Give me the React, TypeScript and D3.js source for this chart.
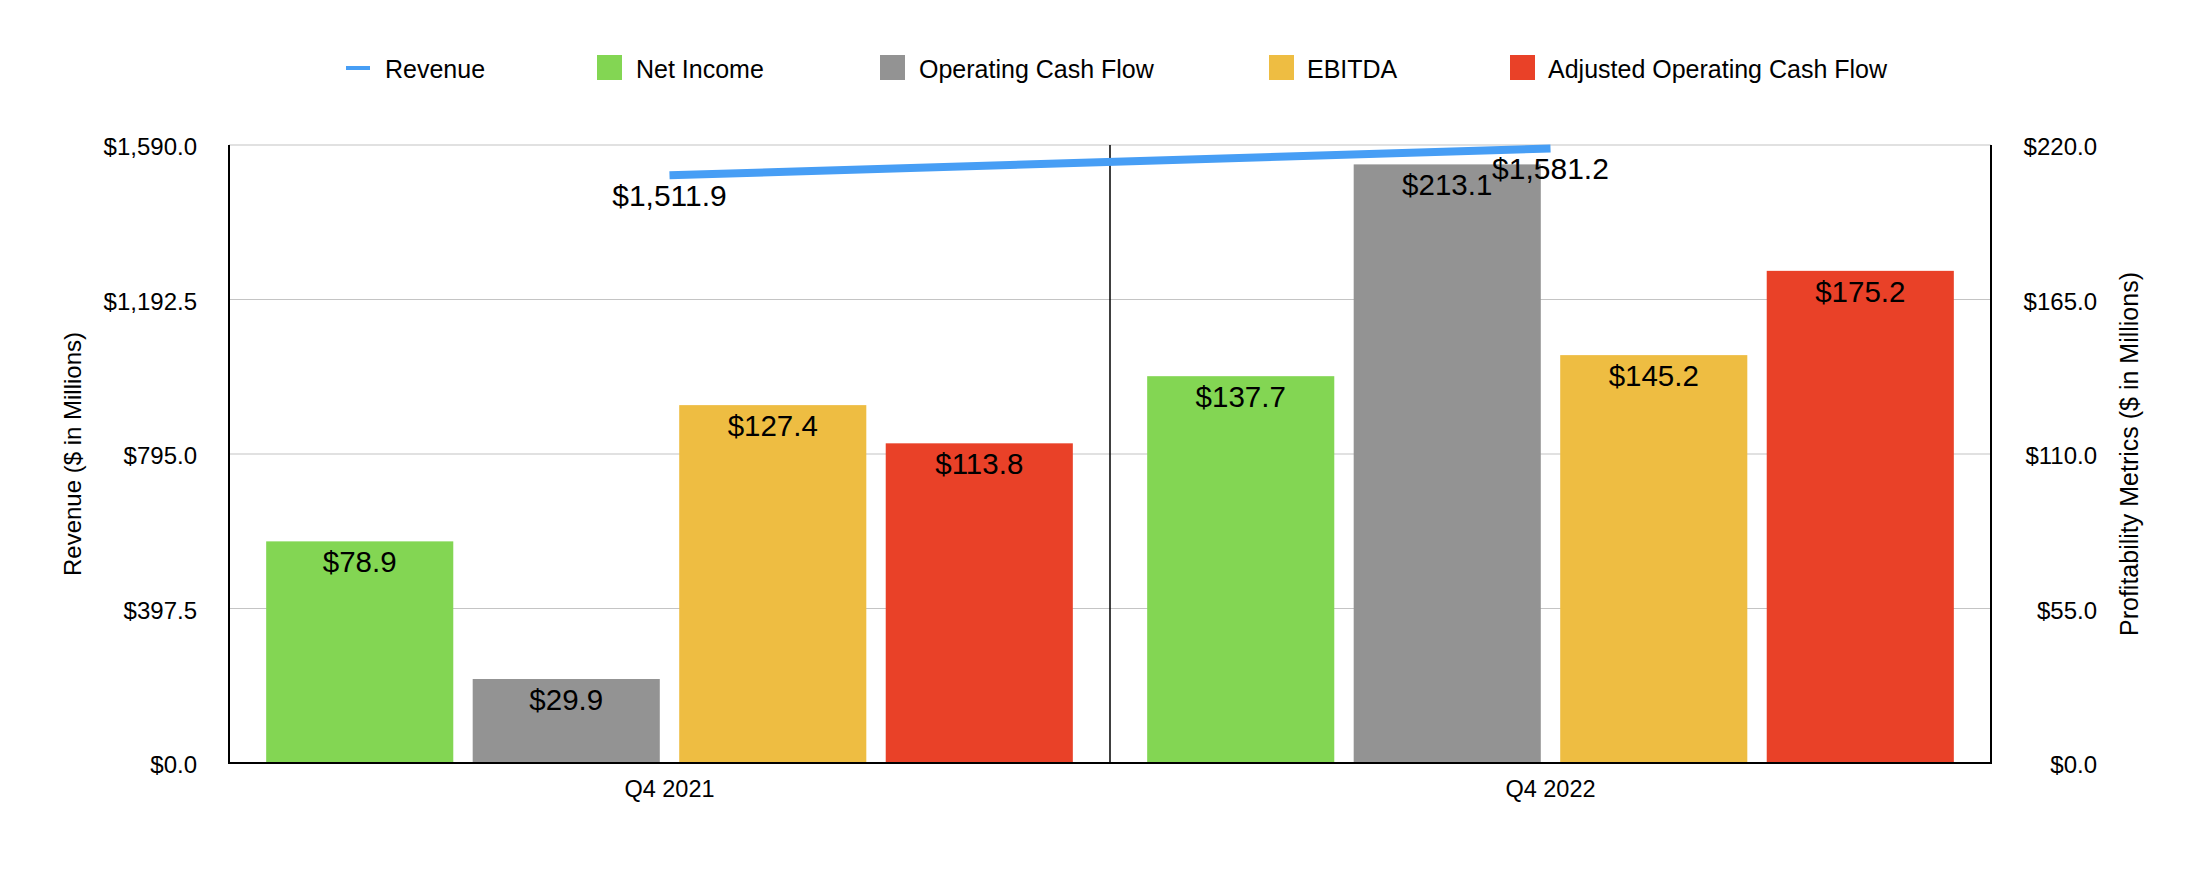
import React from "react";
import * as d3 from "d3";

const categories = ["Q4 2021", "Q4 2022"];
const revenue = [1511.9, 1581.2];
const seriesNames = ["Net Income", "Operating Cash Flow", "EBITDA", "Adjusted Operating Cash Flow"];
const netIncome = [78.9, 137.7];
const operatingCashFlow = [29.9, 213.1];
const ebitda = [127.4, 145.2];
const adjustedOCF = [113.8, 175.2];
const leftTicks = [0, 397.5, 795, 1192.5, 1590];
const rightTicks = [0, 55, 110, 165, 220];
const seriesColors = ["#83d653", "#939393", "#eebd42", "#e94128"];
const revenueColor = "#479ef5";

const W = 2190;
const H = 886;
const M = { left: 229, right: 1991, top: 145, bottom: 763 };
const FONT = "'Liberation Sans', Arial, Helvetica, sans-serif";

const fmt = d3.format(",.1f");
const money = (v: number) => "$" + fmt(v);

export default function App() {
  const seriesValues = [netIncome, operatingCashFlow, ebitda, adjustedOCF];
  const x0 = d3.scaleBand<string>().domain(categories).range([M.left, M.right]).padding(0);
  const x1 = d3
    .scaleBand<string>()
    .domain(seriesNames)
    .range([0, x0.bandwidth()])
    .paddingInner(0.094)
    .paddingOuter(0.18);
  const yL = d3.scaleLinear().domain([0, 1590]).range([M.bottom, M.top]);
  const yR = d3.scaleLinear().domain([0, 220]).range([M.bottom, M.top]);

  const line = d3
    .line<number>()
    .x((_, i) => (x0(categories[i]) as number) + x0.bandwidth() / 2)
    .y((d) => yL(d));

  const legendItems = [
    { name: "Revenue", type: "line", color: revenueColor, sx: 346, tx: 385 },
    { name: seriesNames[0], type: "rect", color: seriesColors[0], sx: 597, tx: 636 },
    { name: seriesNames[1], type: "rect", color: seriesColors[1], sx: 880, tx: 919 },
    { name: seriesNames[2], type: "rect", color: seriesColors[2], sx: 1269, tx: 1307 },
    { name: seriesNames[3], type: "rect", color: seriesColors[3], sx: 1510, tx: 1548 },
  ];

  const midY = (M.top + M.bottom) / 2;

  return (
    <svg
      width={W}
      height={H}
      style={{ position: "absolute", left: 0, top: 0, background: "#fff" }}
      fontFamily={FONT}
    >
      <rect x={0} y={0} width={W} height={H} fill="#fff" />
      {/* Legend */}
      {legendItems.map((it) => (
        <g key={it.name}>
          {it.type === "line" ? (
            <rect x={it.sx} y={66} width={24} height={4} fill={it.color} />
          ) : (
            <rect x={it.sx} y={55} width={25} height={25} fill={it.color} />
          )}
          <text x={it.tx} y={78} fontSize={25} fill="#000">
            {it.name}
          </text>
        </g>
      ))}

      {/* Gridlines */}
      {leftTicks.slice(1).map((t) => (
        <line key={t} x1={M.left} x2={M.right} y1={yL(t)} y2={yL(t)} stroke="#c4c4c4" strokeWidth={1.2} />
      ))}

      {/* Bars */}
      {categories.map((c, ci) => (
        <g key={c} transform={`translate(${x0(c)},0)`}>
          {seriesNames.map((s, si) => (
            <rect
              key={s}
              x={x1(s)}
              y={yR(seriesValues[si][ci])}
              width={x1.bandwidth()}
              height={M.bottom - yR(seriesValues[si][ci])}
              fill={seriesColors[si]}
            />
          ))}
        </g>
      ))}

      {/* Divider between categories */}
      <line x1={x0(categories[1])} x2={x0(categories[1])} y1={M.top} y2={M.bottom} stroke="#000" strokeWidth={1.5} />

      {/* Axes */}
      <line x1={M.left} x2={M.left} y1={M.top} y2={M.bottom + 1} stroke="#000" strokeWidth={2} />
      <line x1={M.right} x2={M.right} y1={M.top} y2={M.bottom + 1} stroke="#000" strokeWidth={2} />
      <line x1={M.left - 1} x2={M.right + 1} y1={M.bottom} y2={M.bottom} stroke="#000" strokeWidth={2} />

      {/* Bar labels */}
      {categories.map((c, ci) => (
        <g key={c} transform={`translate(${x0(c)},0)`}>
          {seriesNames.map((s, si) => (
            <text
              key={s}
              x={(x1(s) as number) + x1.bandwidth() / 2}
              y={yR(seriesValues[si][ci]) + 31}
              textAnchor="middle"
              fontSize={29.5}
              fill="#000"
            >
              {money(seriesValues[si][ci])}
            </text>
          ))}
        </g>
      ))}

      {/* Revenue line */}
      <path d={line(revenue) || ""} fill="none" stroke={revenueColor} strokeWidth={8} />
      {revenue.map((v, i) => (
        <text
          key={i}
          x={(x0(categories[i]) as number) + x0.bandwidth() / 2}
          y={yL(v) + 31}
          textAnchor="middle"
          fontSize={30}
          fill="#000"
        >
          {money(v)}
        </text>
      ))}

      {/* Left ticks */}
      {leftTicks.map((t) => (
        <text key={t} x={197} y={yL(t) + 10} textAnchor="end" fontSize={24} fill="#000">
          {money(t)}
        </text>
      ))}
      {/* Right ticks */}
      {rightTicks.map((t) => (
        <text key={t} x={2097} y={yR(t) + 10} textAnchor="end" fontSize={24} fill="#000">
          {money(t)}
        </text>
      ))}

      {/* X labels */}
      {categories.map((c) => (
        <text
          key={c}
          x={(x0(c) as number) + x0.bandwidth() / 2}
          y={797}
          textAnchor="middle"
          fontSize={23.5}
          fill="#000"
        >
          {c}
        </text>
      ))}

      {/* Axis titles */}
      <text
        transform={`translate(81,${midY}) rotate(-90)`}
        textAnchor="middle"
        fontSize={24}
        fill="#000"
      >
        Revenue ($ in Millions)
      </text>
      <text
        transform={`translate(2138,${midY}) rotate(-90)`}
        textAnchor="middle"
        fontSize={25}
        fill="#000"
      >
        Profitability Metrics ($ in Millions)
      </text>
    </svg>
  );
}
